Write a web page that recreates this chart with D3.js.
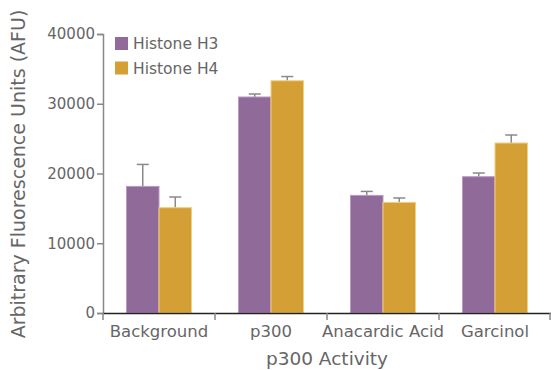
<!DOCTYPE html>
<html><head><meta charset="utf-8">
<script src="https://cdn.jsdelivr.net/npm/d3@7"></script>
<style>body{margin:0;background:#fff}text{font-family:"DejaVu Sans",sans-serif;fill:#666}</style>
</head><body><svg id="c" width="551" height="370"></svg>
<script>
const categories = ["Background","p300","Anacardic Acid","Garcinol"];
const seriesNames = ["Histone H3","Histone H4"];
const h3 = [18150, 30970, 16860, 19540];
const h3Err = [3150, 430, 570, 530];
const h4 = [15100, 33300, 15860, 24370];
const h4Err = [1530, 600, 630, 1150];
const yTicks = [0,10000,20000,30000,40000];
const colors = ["#906b9a","#d4a035"];

const svg = d3.select("#c");
const m = {l:103, r:0, t:34, b:57};
const W = 551, H = 370;
const x = d3.scaleBand().domain(categories).range([m.l, W - m.r]).paddingInner(0).paddingOuter(0);
const y = d3.scaleLinear().domain([0,40000]).range([H - m.b, m.t]);
const x1 = d3.scaleBand().domain(seriesNames).range([0, 65]);
const off = (x.bandwidth() - 65)/2;
const series = [{name:seriesNames[0], v:h3, e:h3Err},{name:seriesNames[1], v:h4, e:h4Err}];

series.forEach((s,si)=>{
  const g = svg.append("g");
  categories.forEach((c,i)=>{
    const bx = x(c)+off+x1(s.name);
    g.append("line").attr("x1",bx+x1.bandwidth()/2).attr("x2",bx+x1.bandwidth()/2)
      .attr("y1",y(s.v[i])).attr("y2",y(s.v[i]+s.e[i])).attr("stroke","#8a8a8a").attr("stroke-width",1.5);
    g.append("line").attr("x1",bx+x1.bandwidth()/2-6).attr("x2",bx+x1.bandwidth()/2+6)
      .attr("y1",y(s.v[i]+s.e[i])).attr("y2",y(s.v[i]+s.e[i])).attr("stroke","#8a8a8a").attr("stroke-width",1.5);
    g.append("rect").attr("x",bx).attr("y",y(s.v[i])).attr("width",x1.bandwidth()).attr("height",y(0)-y(s.v[i]))
      .attr("fill",colors[si]).attr("stroke",si==0?"#b89bc0":"#f0cf80").attr("stroke-width",1);
  });
});

const ya = svg.append("g").attr("transform",`translate(${m.l},0)`)
  .call(d3.axisLeft(y).tickValues(yTicks).tickSize(6).tickPadding(2).tickFormat(d3.format("d")));
ya.select(".domain").attr("stroke","#888").attr("stroke-width",1.5);
ya.selectAll(".tick line").attr("stroke","#888").attr("stroke-width",1.5);
ya.selectAll("text").style("font-size","15px").attr("fill","#666");

const xa = svg.append("g").attr("transform",`translate(0,${y(0)})`)
  .call(d3.axisBottom(x).tickSize(0).tickPadding(12));
xa.select(".domain").attr("stroke","#222").attr("stroke-width",1.5);
xa.selectAll("text").style("font-size","16.5px").attr("fill","#666");
const bounds = categories.map(c=>x(c)).concat([W - m.r - 1]);
svg.append("g").selectAll("line").data(bounds).join("line")
  .attr("x1",d=>d).attr("x2",d=>d).attr("y1",y(0)).attr("y2",y(0)+7)
  .attr("stroke","#888").attr("stroke-width",1.5);

svg.append("text").attr("x",327).attr("y",365).attr("text-anchor","middle").style("font-size","18.5px").text("p300 Activity");
svg.append("text").attr("transform",`translate(25,174) rotate(-90)`).attr("text-anchor","middle").style("font-size","19px").text("Arbitrary Fluorescence Units (AFU)");

const lg = svg.append("g");
seriesNames.forEach((n,i)=>{
  lg.append("rect").attr("x",115).attr("y",37+i*24.5).attr("width",13).attr("height",13).attr("fill",colors[i]);
  lg.append("text").attr("x",133).attr("y",49+i*24.5).style("font-size","15.5px").text(n);
});
</script></body></html>
